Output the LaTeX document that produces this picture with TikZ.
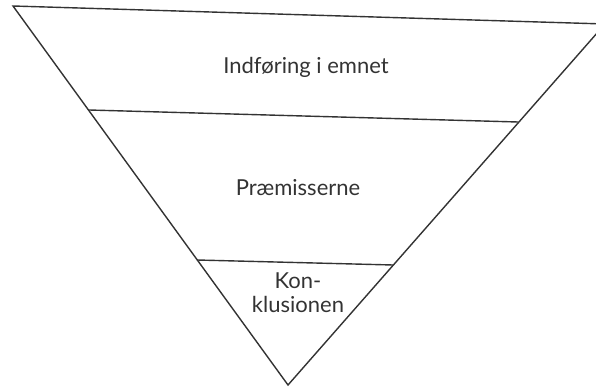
\documentclass[tikz,border=0pt]{standalone}
\usepackage{fontspec}
\setmainfont{Lato}
\begin{document}
\begin{tikzpicture}[x=1pt,y=-1pt,
  edge/.style={draw=black!80,line width=1.4pt,line join=miter},
  lbl/.style={font=\fontsize{22}{24}\selectfont,text=black!80,align=center,inner sep=0pt}]
\useasboundingbox (0,0) rectangle (596,387);
\clip (0,0) rectangle (596,387);
\coordinate (tl) at (13,6);
\coordinate (tr) at (605,24);
\coordinate (ap) at (288,385);
\coordinate (l1) at (89,110);
\coordinate (r1) at (518,122);
\coordinate (l2) at (197,260);
\coordinate (r2) at (393,265);
\draw[edge] (tl) -- (tr) -- (ap) -- cycle;
\draw[edge] (l1) -- (r1);
\draw[edge] (l2) -- (r2);
\node[lbl] (t1) at (306,67) {Indføring i emnet};
\node[lbl] (t2) at (298,188) {Præmisserne};
\node[lbl] (t3) at (298,293) {Kon-\\klusionen};
\end{tikzpicture}
\end{document}
